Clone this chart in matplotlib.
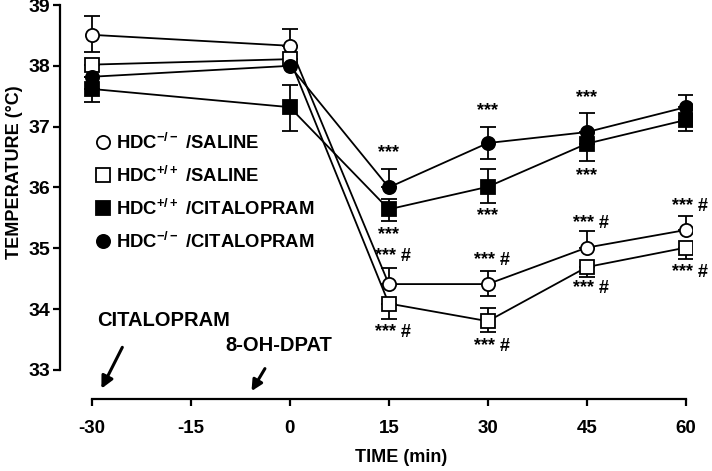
import matplotlib
matplotlib.use("Agg")
import matplotlib.pyplot as plt
from matplotlib.lines import Line2D

plt.rcParams['font.family'] = ['Liberation Sans', 'DejaVu Sans']
plt.rcParams['font.weight'] = 'bold'
plt.rcParams['axes.unicode_minus'] = False
plt.rcParams['mathtext.fontset'] = 'custom'
plt.rcParams['mathtext.rm'] = 'Liberation Sans:bold'
plt.rcParams['mathtext.it'] = 'Liberation Sans:bold'
plt.rcParams['mathtext.bf'] = 'Liberation Sans:bold'
plt.rcParams['mathtext.default'] = 'regular'

time = [-30, 0, 15, 30, 45, 60]

ko_sal = [38.51, 38.33, 34.41, 34.41, 35.01, 35.30]
ko_sal_up = [0.31, 0.27, 0.27, 0.22, 0.27, 0.23]
ko_sal_dn = [0.28, 0.0, 0.0, 0.19, 0.0, 0.0]

wt_sal = [38.02, 38.11, 34.09, 33.80, 34.69, 35.01]
wt_sal_up = [0.0, 0.0, 0.0, 0.21, 0.0, 0.0]
wt_sal_dn = [0.0, 0.0, 0.25, 0.18, 0.17, 0.19]

wt_cit = [37.62, 37.32, 35.64, 36.01, 36.72, 37.11]
wt_cit_up = [0.0, 0.37, 0.17, 0.29, 0.0, 0.0]
wt_cit_dn = [0.21, 0.40, 0.19, 0.26, 0.29, 0.19]

ko_cit = [37.82, 38.00, 36.00, 36.73, 36.91, 37.32]
ko_cit_up = [0.0, 0.0, 0.30, 0.27, 0.31, 0.20]
ko_cit_dn = [0.0, 0.0, 0.0, 0.27, 0.0, 0.0]

labels = [r'HDC$^{- / -}$ /SALINE', r'HDC$^{+ / +}$ /SALINE',
          r'HDC$^{+ / +}$ /CITALOPRAM', r'HDC$^{- / -}$ /CITALOPRAM']

# annotations: (x, y, text)
ann_x = [15, 15, 15, 15, 30, 30, 30, 30, 45, 45, 45, 45, 60, 60]
ann_y = [36.57, 35.23, 34.87, 33.62, 37.27, 35.53, 34.79, 33.38,
         37.47, 36.19, 35.41, 34.33, 35.69, 34.60]
ann_t = ['***', '***', '*** #', '*** #', '***', '***', '*** #', '*** #',
         '***', '***', '*** #', '*** #', '*** #', '*** #']

fig = plt.figure(figsize=(7.12, 4.71), dpi=100)
ax = fig.add_axes([0.08427, 0.15287, 0.8883, 0.8429])

series = [
    (ko_sal, ko_sal_dn, ko_sal_up, 'o', 'white'),
    (wt_sal, wt_sal_dn, wt_sal_up, 's', 'white'),
    (wt_cit, wt_cit_dn, wt_cit_up, 's', 'black'),
    (ko_cit, ko_cit_dn, ko_cit_up, 'o', 'black'),
]
handles = []
for (vals, dn, up, mk, fc), lab in zip(series, labels):
    ax.errorbar(time, vals, yerr=[dn, up], fmt='-', marker=mk, color='black',
                mfc=fc, mec='black', mew=1.3, ms=9.5, lw=1.3,
                elinewidth=1.3, capsize=6, capthick=1.3)
    handles.append(Line2D([], [], linestyle='none', marker=mk, mfc=fc,
                          mec='black', mew=1.3, ms=9.5, label=lab))

for x, y, t in zip(ann_x, ann_y, ann_t):
    if '#' in t:
        ax.text(x + 0.6, y, t, ha='center', va='center', fontsize=13)
    else:
        ax.text(x, y, t, ha='center', va='center', fontsize=13)

leg = ax.legend(handles=handles, loc='upper left',
                bbox_to_anchor=(0.0577, 0.671), frameon=False,
                fontsize=13.3, handlelength=0.7, handletextpad=0.35,
                labelspacing=0.70, borderaxespad=0, borderpad=0)

ax.text(-19.05, 33.81, 'CITALOPRAM', ha='center', va='center', fontsize=14.5)
ax.text(-1.6, 33.40, '8-OH-DPAT', ha='center', va='center', fontsize=14.5)
ax.annotate('', xy=(-28.53, 32.69), xytext=(-25.36, 33.37),
            arrowprops=dict(arrowstyle='-|>', lw=2.2, color='black',
                            mutation_scale=18, shrinkA=0, shrinkB=0))
ax.annotate('', xy=(-5.79, 32.65), xytext=(-3.76, 33.02),
            arrowprops=dict(arrowstyle='-|>', lw=2.2, color='black',
                            mutation_scale=16, shrinkA=0, shrinkB=0))

ax.set_xlim(-34.8, 61)
ax.set_ylim(32.52, 39.05)
ax.set_xticks([-30, -15, 0, 15, 30, 45, 60])
ax.set_yticks([33, 34, 35, 36, 37, 38, 39])
ax.spines['top'].set_visible(False)
ax.spines['right'].set_visible(False)
ax.spines['left'].set_bounds(33, 39)
ax.spines['bottom'].set_bounds(-30, 60)
for s in ('left', 'bottom'):
    ax.spines[s].set_linewidth(1.6)
ax.tick_params(axis='both', width=1.6, length=5)
ax.tick_params(axis='y', labelsize=14, pad=2)
ax.tick_params(axis='x', labelsize=13.5, pad=10)

ax.set_xlabel('TIME (min)', fontsize=13, fontweight='bold')
ax.set_ylabel('TEMPERATURE (°C)', fontsize=13, fontweight='bold')
ax.xaxis.set_label_coords(0.539, -0.125)
ax.yaxis.set_label_coords(-0.058, 0.571)

fig.savefig('out.png', dpi=100)
